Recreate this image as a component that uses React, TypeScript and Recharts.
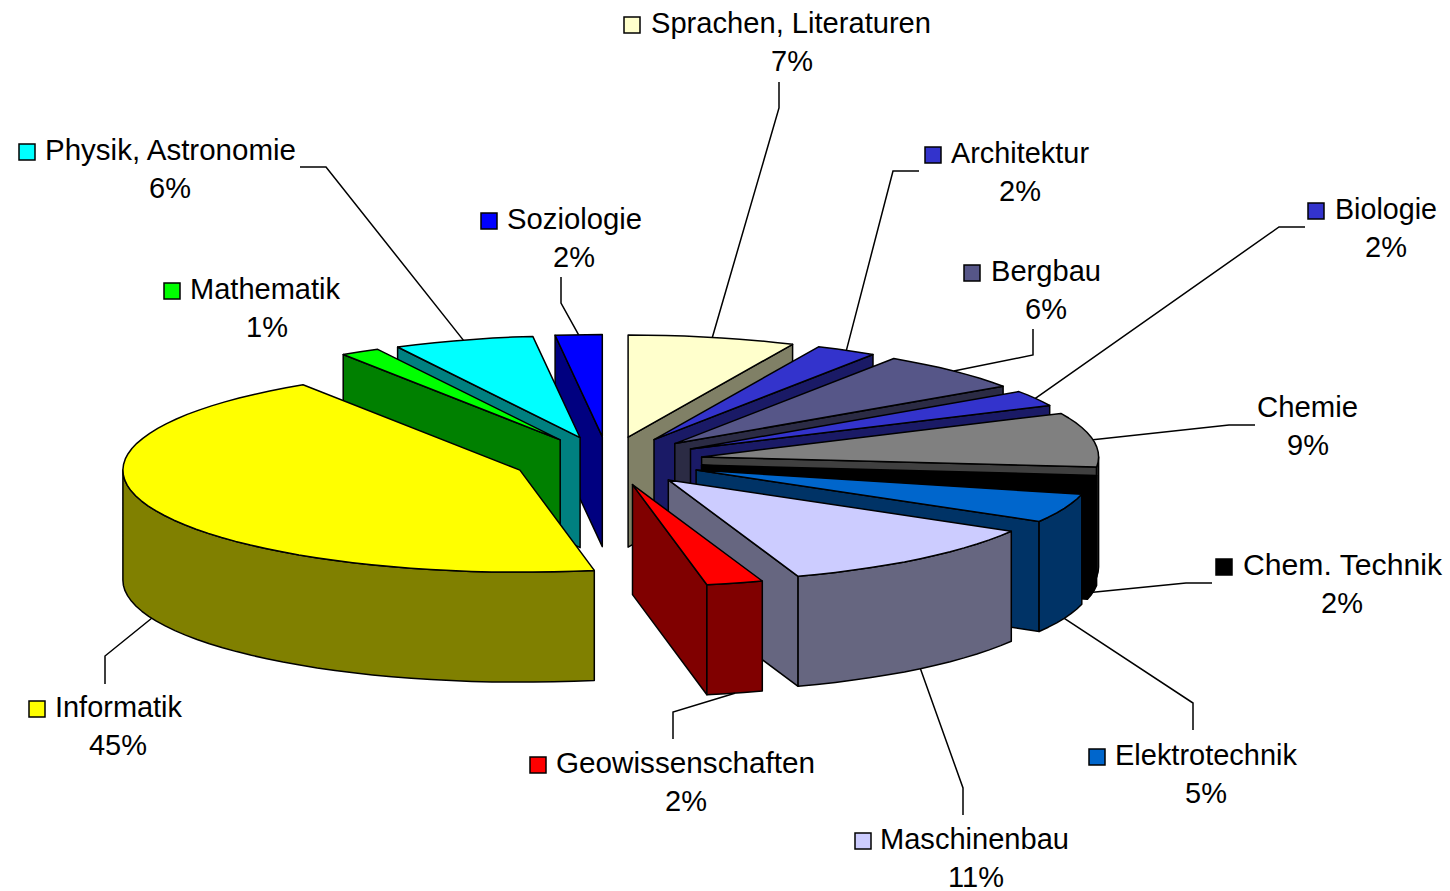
import { PieChart, Pie } from 'recharts';

const subjects = [
  'Sprachen, Literaturen', 'Architektur', 'Bergbau', 'Biologie', 'Chemie', 'Chem. Technik', 'Elektrotechnik',
  'Maschinenbau', 'Geowissenschaften', 'Informatik', 'Mathematik', 'Physik, Astronomie', 'Soziologie',
];
// slice sizes, the printed labels are rounded by the original
const shares = [6.8, 2.5, 6.2, 2.5, 8.6, 2.2, 4.6, 11.3, 2.3, 43.8, 1.6, 5.7, 1.9];
const percentLabels = ['7%', '2%', '6%', '2%', '9%', '2%', '5%', '11%', '2%', '45%', '1%', '6%', '2%'];
const topColors = [
  '#FFFFCC', '#3333CC', '#565688', '#3333CC', '#808080', '#000000', '#0066CC',
  '#CCCCFF', '#FF0000', '#FFFF00', '#00FF00', '#00FFFF', '#0000FF',
];
const wallColors = [
  '#808066', '#1A1A66', '#2B2B44', '#1A1A66', '#404040', '#000000', '#003366',
  '#666680', '#800000', '#808000', '#008000', '#008080', '#000080',
];

// back slices first, the left side has to be painted the other way round
const paintOrder = [0, 1, 2, 3, 4, 5, 6, 7, 8, 12, 11, 10, 9];

const table = subjects.map((name, i) => ({
  name,
  share: shares[i],
  fill: topColors[i],
  wall: wallColors[i],
  percentLabel: percentLabels[i],
}));

const CX = 608;
const CY = 461;
const RADIUS = 397;
const SQUASH = 0.257;
const EXPLODE = 95;
const DEPTH = 110;
const FONT = '"Liberation Sans", Arial, sans-serif';

// key = legend square x, text = name x, width = name width, y = name line centre, pct = percent centre x
const labelSpots: Record<string, any> = {
  'Sprachen, Literaturen': { key: 624, text: 651, width: 280, y: 23, pct: 792, bends: [[779, 108], [779, 82]] },
  Architektur: { key: 925, text: 951, width: 138, y: 153, pct: 1020, bends: [[893, 171], [919, 171]] },
  Bergbau: { key: 964, text: 991, width: 110, y: 271, pct: 1046, bends: [[1033, 355], [1033, 329]] },
  Biologie: { key: 1308, text: 1335, width: 102, y: 209, pct: 1386, bends: [[1279, 227], [1305, 227]] },
  Chemie: { text: 1257, width: 101, y: 407, pct: 1308, bends: [[1229, 425], [1255, 425]] },
  'Chem. Technik': { key: 1216, text: 1243, width: 199, y: 565, pct: 1342, bends: [[1186, 583], [1212, 583]] },
  Elektrotechnik: { key: 1089, text: 1115, width: 182, y: 755, pct: 1206, bends: [[1193, 703], [1193, 730]] },
  Maschinenbau: { key: 855, text: 880, width: 189, y: 839, pct: 976, bends: [[963, 788], [963, 815]] },
  Geowissenschaften: { key: 530, text: 556, width: 259, y: 763, pct: 686, bends: [[673, 712], [673, 739]] },
  Informatik: { key: 29, text: 55, width: 127, y: 707, pct: 118, bends: [[105, 656], [105, 684]] },
  Mathematik: { key: 164, text: 190, width: 150, y: 289, pct: 267 },
  'Physik, Astronomie': { key: 19, text: 45, width: 251, y: 150, pct: 170, bends: [[326, 167], [300, 167]] },
  Soziologie: { key: 481, text: 507, width: 135, y: 219, pct: 574, bends: [[561, 303], [561, 277]] },
};

const rad = (deg: number) => (deg * Math.PI) / 180;

// theta is clockwise from 12 o'clock
function apexOf(cx: number, cy: number, mid: number) {
  return {
    x: cx + EXPLODE * Math.sin(rad(mid)),
    y: cy - EXPLODE * SQUASH * Math.cos(rad(mid)),
  };
}

function rimPoint(apex: { x: number; y: number }, r: number, theta: number) {
  return {
    x: apex.x + r * Math.sin(rad(theta)),
    y: apex.y - r * SQUASH * Math.cos(rad(theta)),
  };
}

function arcPoints(apex: { x: number; y: number }, r: number, from: number, to: number) {
  const steps = Math.max(2, Math.ceil((to - from) / 3));
  const pts = [];
  for (let i = 0; i <= steps; i++) pts.push(rimPoint(apex, r, from + ((to - from) * i) / steps));
  return pts;
}

const toPath = (pts: { x: number; y: number }[]) =>
  'M' + pts.map((p) => `${p.x.toFixed(1)},${p.y.toFixed(1)}`).join('L') + 'Z';
const drop = (pts: { x: number; y: number }[]) => pts.map((p) => ({ x: p.x, y: p.y + DEPTH }));

function makeSlice(only: string) {
  return function Slice(props: any) {
    if (props.name !== only) return null;
    const from = 90 - props.startAngle;
    const to = 90 - props.endAngle;
    const r = props.outerRadius;
    const apex = apexOf(props.cx, props.cy, (from + to) / 2);
    const a = rimPoint(apex, r, from);
    const b = rimPoint(apex, r, to);
    const line = { stroke: '#000', strokeWidth: 1.5, strokeLinejoin: 'round' as const };

    const frontFrom = Math.max(from, 90);
    const frontTo = Math.min(to, 270);
    const rim = frontTo > frontFrom ? arcPoints(apex, r, frontFrom, frontTo) : null;

    return (
      <g>
        {Math.sin(rad(from)) < 0 && (
          <path d={toPath([apex, a, ...drop([a, apex])])} fill={props.wall} {...line} />
        )}
        {Math.sin(rad(to)) > 0 && (
          <path d={toPath([apex, b, ...drop([b, apex])])} fill={props.wall} {...line} />
        )}
        {rim && <path d={toPath([...rim, ...drop(rim).reverse()])} fill={props.wall} {...line} />}
        <path d={toPath([apex, ...arcPoints(apex, r, from, to)])} fill={props.fill} {...line} />
      </g>
    );
  };
}

function SliceLabel(props: any) {
  const spot = labelSpots[props.name];
  const mid = 90 - props.midAngle;
  const start = rimPoint(apexOf(props.cx, props.cy, mid), props.outerRadius, mid);
  if (Math.cos(rad(mid)) < 0) start.y += DEPTH;
  const text = { fontFamily: FONT, fontSize: 29, fill: '#000', dominantBaseline: 'central' as const };
  return (
    <g>
      {spot.bends && (
        <polyline
          points={[[start.x, start.y], ...spot.bends].map((p) => p.join(',')).join(' ')}
          fill="none"
          stroke="#000"
          strokeWidth={1.5}
        />
      )}
      {spot.key !== undefined && (
        <rect x={spot.key} y={spot.y - 6} width={16} height={16} fill={props.fill} stroke="#000" strokeWidth={1.5} />
      )}
      <text x={spot.text} y={spot.y} textLength={spot.width} lengthAdjust="spacingAndGlyphs" {...text}>
        {props.name}
      </text>
      <text x={spot.pct} y={spot.y + 38} textAnchor="middle" {...text}>
        {props.payload.percentLabel}
      </text>
    </g>
  );
}

export default function App() {
  return (
    <div style={{ position: 'absolute', left: 0, top: 0, width: 1450, height: 891, background: '#fff' }}>
      <PieChart width={1450} height={891} margin={{ top: 0, right: 0, bottom: 0, left: 0 }}>
        {paintOrder.map((i) => (
          <Pie
            key={subjects[i]}
            data={table}
            dataKey="share"
            nameKey="name"
            cx={CX}
            cy={CY}
            outerRadius={RADIUS}
            startAngle={90}
            endAngle={-270}
            stroke="none"
            shape={makeSlice(subjects[i])}
            label={false}
            labelLine={false}
            isAnimationActive={false}
          />
        ))}
        <Pie
          data={table}
          dataKey="share"
          nameKey="name"
          cx={CX}
          cy={CY}
          outerRadius={RADIUS}
          startAngle={90}
          endAngle={-270}
          stroke="none"
          shape={() => null}
          label={SliceLabel}
          labelLine={false}
          isAnimationActive={false}
        />
      </PieChart>
    </div>
  );
}
